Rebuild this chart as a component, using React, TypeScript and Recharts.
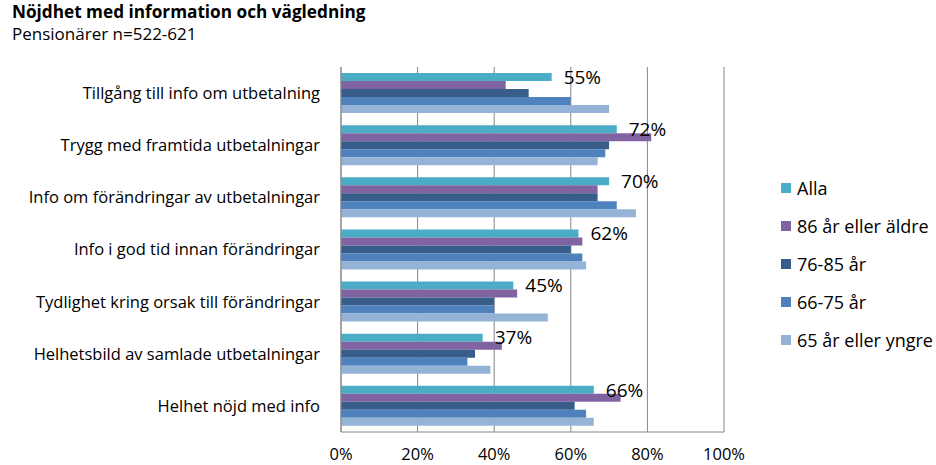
import React from 'react';
import { Bar, BarChart, CartesianGrid, LabelList, XAxis, YAxis } from 'recharts';

const categories = [
  'Tillgång till info om utbetalning',
  'Trygg med framtida utbetalningar',
  'Info om förändringar av utbetalningar',
  'Info i god tid innan förändringar',
  'Tydlighet kring orsak till förändringar',
  'Helhetsbild av samlade utbetalningar',
  'Helhet nöjd med info',
];

const alla = [55, 72, 70, 62, 45, 37, 66];
const age86plus = [43, 81, 67, 63, 46, 42, 73];
const age76to85 = [49, 70, 67, 60, 40, 35, 61];
const age66to75 = [60, 69, 72, 63, 40, 33, 64];
const age65under = [70, 67, 77, 64, 54, 39, 66];

const xTicks = [0, 20, 40, 60, 80, 100];

const series = [
  { key: 'alla', name: 'Alla', color: '#4BACC6' },
  { key: 'a86', name: '86 år eller äldre', color: '#8064A2' },
  { key: 'a76', name: '76-85 år', color: '#385D8A' },
  { key: 'a66', name: '66-75 år', color: '#4F81BD' },
  { key: 'a65', name: '65 år eller yngre', color: '#95B3D7' },
];

const data = categories.map((label, i) => ({
  label,
  alla: alla[i],
  a86: age86plus[i],
  a76: age76to85[i],
  a66: age66to75[i],
  a65: age65under[i],
}));

const font = '"Open Sans", "Noto Sans", sans-serif';

function LegendBox() {
  return (
    <div style={{ position: 'absolute', left: 781, top: 169, fontFamily: font, fontSize: 18, color: '#000' }}>
      {series.map((s) => (
        <div key={s.key} style={{ display: 'flex', alignItems: 'center', height: 38, whiteSpace: 'nowrap' }}>
          <span style={{ width: 10, height: 10, background: s.color, marginRight: 6 }} />
          <span>{s.name}</span>
        </div>
      ))}
    </div>
  );
}

export default function App() {
  return (
    <div style={{ position: 'absolute', left: 0, top: 0, width: 936, height: 465, background: '#fff', fontFamily: font }}>
      <div style={{ position: 'absolute', left: 12, top: 0, fontSize: 17.2, fontWeight: 700, color: '#000' }}>
        Nöjdhet med information och vägledning
      </div>
      <div style={{ position: 'absolute', left: 12, top: 22, fontSize: 17, color: '#000' }}>
        Pensionärer n=522-621
      </div>
      <div style={{ position: 'absolute', left: 0, top: 0 }}>
        <BarChart
          width={936}
          height={465}
          data={data}
          layout="vertical"
          margin={{ top: 67, right: 212, bottom: 0, left: 0 }}
          barSize={8}
          barGap={0}
        >
          <CartesianGrid horizontal={false} stroke="#868686" />
          <XAxis
            type="number"
            domain={[0, 100]}
            ticks={xTicks}
            tickFormatter={(v) => `${v}%`}
            height={33}
            axisLine={{ stroke: '#868686' }}
            tickLine={false}
            tickSize={0}
            tickMargin={16}
            tick={{ fill: '#000', fontSize: 16.5, fontFamily: font }}
          />
          <YAxis
            type="category"
            dataKey="label"
            width={341}
            axisLine={{ stroke: '#868686' }}
            tickLine={false}
            tickSize={0}
            tickMargin={21}
            interval={0}
            tick={{ fill: '#000', fontSize: 16.5, fontFamily: font }}
          />
          {series.map((s, idx) => (
            <Bar key={s.key} dataKey={s.key} name={s.name} fill={s.color} isAnimationActive={false}>
              {idx === 0 && (
                <LabelList
                  dataKey="alla"
                  position="right"
                  offset={12}
                  formatter={(v: any) => `${v}%`}
                  style={{ fill: '#000', fontSize: 19, fontFamily: font }}
                />
              )}
            </Bar>
          ))}
        </BarChart>
      </div>
      <LegendBox />
    </div>
  );
}
